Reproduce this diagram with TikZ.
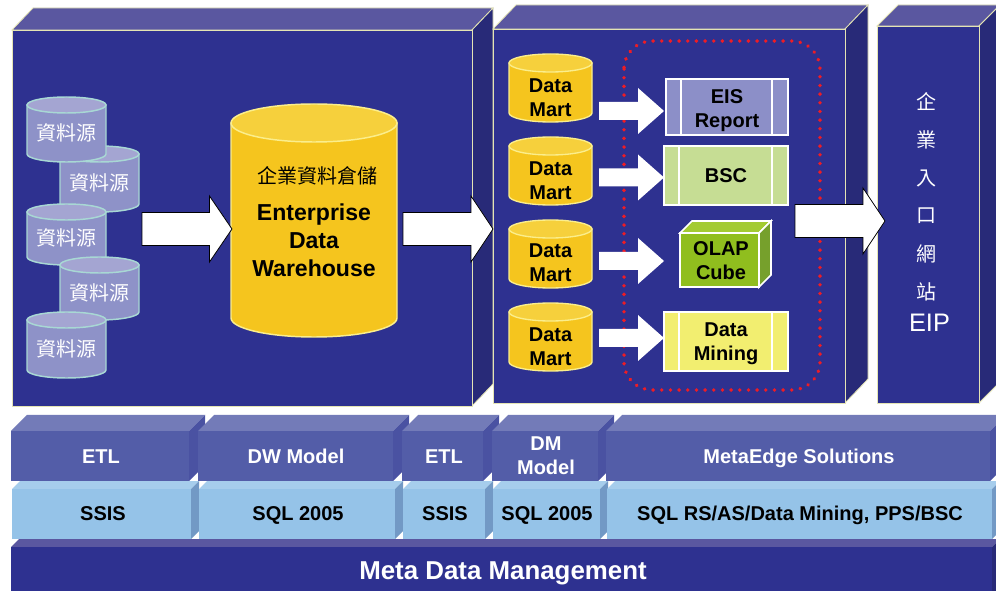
\documentclass[tikz,border=0pt]{standalone}
\usepackage{fontspec}
\setmainfont{Liberation Sans}
\newfontfamily\cjk{Noto Sans CJK TC}
\definecolor{navyF}{HTML}{2E3190}
\definecolor{navyT}{HTML}{5A57A0}
\definecolor{navyS}{HTML}{282A78}
\definecolor{edgeY}{HTML}{E4E4B4}
\definecolor{goldB}{HTML}{F5C51E}
\definecolor{goldT}{HTML}{F6D03C}
\definecolor{goldE}{HTML}{FBEE8C}
\definecolor{srcB}{HTML}{8E92C8}
\definecolor{srcT}{HTML}{A4A5D2}
\definecolor{srcE}{HTML}{A8D8D4}
\definecolor{eisF}{HTML}{8C8FC8}
\definecolor{bscF}{HTML}{C6DD94}
\definecolor{minF}{HTML}{F2EE70}
\definecolor{cubeF}{HTML}{90BE1E}
\definecolor{cubeT}{HTML}{A3CB32}
\definecolor{cubeS}{HTML}{76A02C}
\definecolor{rowF}{HTML}{535DA8}
\definecolor{rowT}{HTML}{737BB8}
\definecolor{rowS}{HTML}{4A52A2}
\definecolor{lowF}{HTML}{95C3E8}
\definecolor{lowT}{HTML}{A6CDEC}
\definecolor{lowS}{HTML}{7299C5}
\definecolor{dotR}{HTML}{EE1C25}
\tikzset{
  x=0.75pt,y=-0.75pt,
  lbl/.style={inner sep=0pt,align=center,font=\bfseries\fontsize{15}{18}\selectfont,text=black},
  lblw/.style={lbl,text=white},
  baselbl/.style={lbl,anchor=base},
  baselblw/.style={lblw,anchor=base},
  srctxt/.style={inner sep=0pt,text=white,font=\cjk\fontsize{15}{18}\selectfont},
  facefront/.style={draw=edgeY,line width=0.6pt,fill=navyF},
  facetop/.style={draw=edgeY,line width=0.6pt,fill=navyT},
  faceside/.style={draw=edgeY,line width=0.6pt,fill=navyS},
  whitearrow/.style={fill=white,draw=none},
  bigarrow/.style={fill=white,draw=black,line width=0.6pt,miter limit=10},
  winbox/.style={draw=white,line width=1.2pt},
  winline/.style={draw=white,line width=1pt},
  dotted ring/.style={draw=dotR,line width=2.8pt,line cap=round,dash pattern=on 0.1pt off 6.4pt,rounded corners=21pt},
}
% 3-D panel: x0 y0 x1 y1 depthx depthy
\newcommand{\panel}[6]{%
  \draw[facetop] (#1,#2) -- (#1+#5,#2-#6) -- (#3+#5,#2-#6) -- (#3,#2) -- cycle;
  \draw[faceside] (#3,#2) -- (#3+#5,#2-#6) -- (#3+#5,#4-#6) -- (#3,#4) -- cycle;
  \draw[facefront] (#1,#2) rectangle (#3,#4);
}
% bar: x0 y0 x1 y1 depth prefix
\newcommand{\stripbar}[6]{%
  \fill[#6T] (#1,#2) -- (#1+#5,#2-#5) -- (#3+#5,#2-#5) -- (#3,#2) -- cycle;
  \fill[#6S] (#3,#2) -- (#3+#5,#2-#5) -- (#3+#5,#4-#5) -- (#3,#4) -- cycle;
  \fill[#6F] (#1,#2) rectangle (#3,#4);
}
% cylinder: x0 x1 ytop ybottom ry body top edge lw
\newcommand{\cyl}[9]{%
  \pgfmathsetmacro\cxc{(#1+#2)/2}\pgfmathsetmacro\crx{(#2-#1)/2}%
  \pgfmathsetmacro\cya{#3+#5}\pgfmathsetmacro\cyb{#4-#5}%
  \pgfmathsetmacro\ckx{0.5523*\crx}\pgfmathsetmacro\cky{0.5523*#5}%
  \draw[draw=#8,line width=#9,fill=#6]
    (#1,\cya) -- (#1,\cyb)
    .. controls (#1,\cyb+\cky) and (\cxc-\ckx,#4) .. (\cxc,#4)
    .. controls (\cxc+\ckx,#4) and (#2,\cyb+\cky) .. (#2,\cyb)
    -- (#2,\cya) -- cycle;
  \draw[draw=#8,line width=#9,fill=#7]
    (#1,\cya) .. controls (#1,\cya-\cky) and (\cxc-\ckx,#3) .. (\cxc,#3)
    .. controls (\cxc+\ckx,#3) and (#2,\cya-\cky) .. (#2,\cya)
    .. controls (#2,\cya+\cky) and (\cxc+\ckx,\cya+#5) .. (\cxc,\cya+#5)
    .. controls (\cxc-\ckx,\cya+#5) and (#1,\cya+\cky) .. (#1,\cya) -- cycle;
}
% arrow: x0 xbase tip yc halftail halfhead style
\newcommand{\blockarrow}[7]{%
  \path[#7] (#1,#4-#5) -- (#2,#4-#5) -- (#2,#4-#6) -- (#3,#4) -- (#2,#4+#6) -- (#2,#4+#5) -- (#1,#4+#5) -- cycle;
}
% framed box with two white bars
\newcommand{\frbox}[7]{%
  \draw[winbox,fill=#7] (#1,#2) rectangle (#3,#4);
  \draw[winline] (#5,#2) -- (#5,#4) (#6,#2) -- (#6,#4);
}
\begin{document}
\begin{tikzpicture}
\clip (0,0) rectangle (996,591);
\fill[white] (0,0) rectangle (996,591);
% panels
\panel{12}{30}{472}{406}{21}{22}
\panel{493}{29}{845}{403}{23}{24}
\panel{877}{26}{979}{403}{21}{21}
% sources
\cyl{60}{139}{146}{212}{8}{srcB}{srcT}{srcE}{1.1pt}
\cyl{27}{106}{97}{162}{8}{srcB}{srcT}{srcE}{1.1pt}
\cyl{27}{106}{204}{265}{8}{srcB}{srcT}{srcE}{1.1pt}
\cyl{60}{139}{257}{320}{8}{srcB}{srcT}{srcE}{1.1pt}
\cyl{27}{106}{312}{378}{8}{srcB}{srcT}{srcE}{1.1pt}
\node[srctxt] (s1) at (66.5,133) {資料源};
\node[srctxt] (s2) at (99.5,183) {資料源};
\node[srctxt] (s3) at (66.5,238) {資料源};
\node[srctxt] (s4) at (99.5,293) {資料源};
\node[srctxt] (s5) at (66.5,349) {資料源};
% warehouse
\cyl{231}{397}{104}{337}{19}{goldB}{goldT}{goldE}{1.1pt}
\node[inner sep=0pt,font=\cjk\fontsize{15}{18}\selectfont] (dwc) at (317,176) {企業資料倉儲};
\node[lbl,font=\bfseries\fontsize{17.3}{21}\selectfont] (dw) at (314,240) {Enterprise\\Data\\Warehouse};
% marts
\cyl{509}{592}{54}{122}{9}{goldB}{goldT}{goldE}{1pt}
\cyl{509}{592}{137}{205}{9}{goldB}{goldT}{goldE}{1pt}
\cyl{509}{592}{220}{288}{9}{goldB}{goldT}{goldE}{1pt}
\cyl{509}{592}{303}{371}{9}{goldB}{goldT}{goldE}{1pt}
\node[lbl] (m1) at (550.5,98) {Data\\Mart};
\node[lbl] (m2) at (550.5,181) {Data\\Mart};
\node[lbl] (m3) at (550.5,263) {Data\\Mart};
\node[lbl] (m4) at (550.5,347) {Data\\Mart};
% dotted ring
\draw[dotted ring] (624,41) rectangle (820,390);
% small arrows
\blockarrow{599}{638}{664}{111}{9}{23}{whitearrow}
\blockarrow{599}{638}{664}{177.5}{9}{23}{whitearrow}
\blockarrow{599}{638}{664}{261}{9}{23}{whitearrow}
\blockarrow{599}{638}{664}{338}{9}{23}{whitearrow}
% tools
\frbox{666}{79}{788}{135}{681}{772}{eisF}
\frbox{664}{146}{788}{205}{679}{772}{bscF}
\frbox{664}{312}{788}{371}{679}{772}{minF}
\node[lbl] (eis) at (727,110.5) {EIS\\Report};
\node[baselbl] (bsc) at (726,182.7) {BSC};
\node[lbl] (min) at (726,344) {Data\\Mining};
\draw[winbox,fill=cubeT] (680,233) -- (692,221) -- (771,221) -- (759,233) -- cycle;
\draw[winbox,fill=cubeS] (759,233) -- (771,221) -- (771,275) -- (759,287) -- cycle;
\draw[winbox,fill=cubeF] (680,233) rectangle (759,287);
\node[lbl] (olap) at (721,260.5) {OLAP\\Cube};
% big arrows
\blockarrow{142}{209.5}{232}{229}{16.5}{33}{bigarrow}
\blockarrow{403}{471}{493}{229}{16.5}{33}{bigarrow}
\blockarrow{795}{863}{885}{221}{16.5}{33}{bigarrow}
% portal
\foreach \ch/\yy/\nm in {企/102/p1,業/140/p2,入/178/p3,口/216/p4,網/254/p5,站/292/p6}
  \node[srctxt] (\nm) at (926,\yy) {\ch};
\node[inner sep=0pt,text=white,anchor=base,font=\fontsize{19}{22}\selectfont] (eip) at (929.5,332) {EIP};
% upper row
\stripbar{11}{431}{189}{481}{16}{row}
\stripbar{198}{431}{393}{481}{16}{row}
\stripbar{402}{431}{483}{481}{16}{row}
\stripbar{492}{431}{598}{481}{16}{row}
\stripbar{606}{431}{990}{481}{16}{row}
\node[baselblw] (a1) at (101,463.5) {ETL};
\node[baselblw] (a2) at (296,463.5) {DW Model};
\node[baselblw] (a3) at (444,463.5) {ETL};
\node[lblw] (a4) at (546,455.5) {DM\\Model};
\node[baselblw] (a5) at (799,463.5) {MetaEdge Solutions};
% lower row
\stripbar{12}{489}{191}{539}{8}{low}
\stripbar{199}{489}{395}{539}{8}{low}
\stripbar{403}{489}{485}{539}{8}{low}
\stripbar{493}{489}{600}{539}{8}{low}
\stripbar{607}{489}{992}{539}{8}{low}
\node[baselbl] (b1) at (103,520) {SSIS};
\node[baselbl] (b2) at (298,520) {SQL 2005};
\node[baselbl] (b3) at (445,520) {SSIS};
\node[baselbl] (b4) at (547,520) {SQL 2005};
\node[baselbl] (b5) at (800,520) {SQL RS/AS/Data Mining, PPS/BSC};
% base
\fill[navyT] (11,547) -- (19,539) -- (1000,539) -- (992,547) -- cycle;
\fill[navyS] (992,547) -- (1000,539) -- (1000,591) -- (992,591) -- cycle;
\fill[navyF] (11,547) rectangle (992,591);
\node[baselblw,font=\bfseries\fontsize{19.4}{22}\selectfont] (base) at (503,579) {Meta Data Management};
\end{tikzpicture}
\end{document}
